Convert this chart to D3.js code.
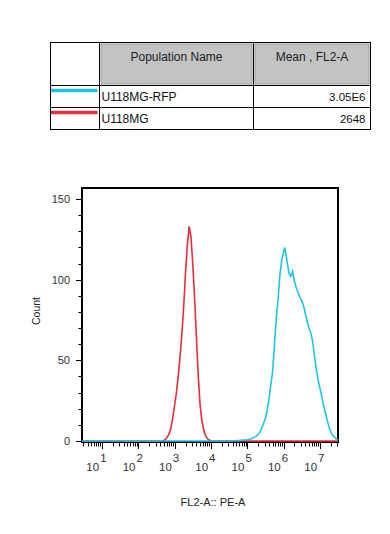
<!DOCTYPE html>
<html>
<head>
<meta charset="utf-8">
<script src="https://cdn.jsdelivr.net/npm/d3@7"></script>
<style>
  html, body { margin: 0; padding: 0; background: #fff; }
  svg { display: block; font-family: "Liberation Sans", Arial, sans-serif; }
</style>
</head>
<body>
<svg id="chart" width="390" height="534"></svg>
<script>
// ---------------- data ----------------
const populations = ["U118MG-RFP", "U118MG"];
const populationColors = ["#1fc3e8", "#ea2d3a"];
const meanValues = ["3.05E6", "2648"];
const tableHeaders = ["Population Name", "Mean , FL2-A"];

// bin positions as log10(FL2-A)
const redLog = [0.45, 2.60, 2.65, 2.70, 2.75, 2.80, 2.85, 2.90, 2.95, 3.00, 3.05, 3.10, 3.15, 3.20, 3.25, 3.30, 3.35, 3.40, 3.45, 3.50, 3.55, 3.60, 3.65, 3.70, 3.75, 3.80, 3.85, 3.90, 3.95, 4.00, 4.05, 4.10, 7.50];
const redCount = [0, 0, 0, 0.3, 1, 2.5, 4.5, 8, 14.5, 22, 30, 40, 52, 66, 83, 104, 121, 133, 127, 110, 89, 65, 41, 23, 13, 7, 3.5, 1.5, 0.6, 0.2, 0, 0, 0];

const cyanLog = [0.45, 4.50, 4.60, 4.70, 4.80, 4.90, 5.00, 5.05, 5.10, 5.15, 5.20, 5.25, 5.30, 5.35, 5.40, 5.45, 5.50, 5.55, 5.60, 5.65, 5.70, 5.75, 5.80, 5.85, 5.90, 5.95, 6.00, 6.03, 6.05, 6.10, 6.15, 6.20, 6.25, 6.30, 6.35, 6.40, 6.45, 6.50, 6.55, 6.60, 6.65, 6.70, 6.75, 6.80, 6.85, 6.90, 6.95, 7.00, 7.05, 7.10, 7.15, 7.20, 7.25, 7.30, 7.35, 7.40, 7.45, 7.50];
const cyanCount = [0, 0, 0.2, 0.3, 0.4, 0.6, 0.8, 1, 1.3, 1.8, 2.4, 3, 4, 5.5, 8, 11, 14, 19, 26, 35, 43, 60, 76, 88, 103, 112, 117, 120, 118, 111, 104, 102, 105, 99, 95, 92, 89, 87, 84, 79, 74, 70, 67, 62, 53, 45, 38, 33, 28, 22, 18, 13, 9, 5.5, 3.5, 2.5, 1.2, 0.6];

const xDecades = [1, 2, 3, 4, 5, 6, 7];
const yTicksMajor = [0, 50, 100, 150];
const xLabel = "FL2-A:: PE-A";
const yLabel = "Count";

// ---------------- drawing ----------------
const svg = d3.select("#chart");

// table
const tbl = svg.append("g");
const colX = [50.5, 99.5, 253.5, 370.5];
const rowY = [42.5, 85.5, 107.5, 129.5];
// header gray cells
[[colX[1], colX[2]], [colX[2], colX[3]]].forEach(([a, b]) => {
  tbl.append("rect").attr("x", a + 1.5).attr("y", rowY[0] + 1.5)
    .attr("width", b - a - 3).attr("height", rowY[1] - rowY[0] - 3)
    .attr("fill", "#c3c3c3").attr("stroke", "#9a9a9a").attr("stroke-width", 1);
});
// grid lines
tbl.append("rect").attr("x", colX[0]).attr("y", rowY[0]).attr("width", colX[3] - colX[0])
  .attr("height", rowY[3] - rowY[0]).attr("fill", "none").attr("stroke", "#000");
rowY.slice(1, 3).forEach(y => tbl.append("line").attr("x1", colX[0]).attr("x2", colX[3])
  .attr("y1", y).attr("y2", y).attr("stroke", "#000"));
colX.slice(1, 3).forEach(x => tbl.append("line").attr("x1", x).attr("x2", x)
  .attr("y1", rowY[0]).attr("y2", rowY[3]).attr("stroke", "#000"));
// header texts
tableHeaders.forEach((h, i) => {
  tbl.append("text").attr("x", (colX[i + 1] + colX[i + 2]) / 2).attr("y", 61)
    .attr("text-anchor", "middle").attr("font-size", 12).attr("fill", "#222").text(h);
});
// rows
populations.forEach((p, i) => {
  const yMid = (rowY[i + 1] + rowY[i + 2]) / 2;
  tbl.append("line").attr("x1", colX[0] + 0.5).attr("x2", colX[1] - 2)
    .attr("y1", yMid - 6).attr("y2", yMid - 6)
    .attr("stroke", populationColors[i]).attr("stroke-width", 3.5);
  tbl.append("text").attr("x", colX[1] + 2).attr("y", yMid + 4.5)
    .attr("font-size", 12).attr("fill", "#111").text(p);
  tbl.append("text").attr("x", colX[3] - 5).attr("y", yMid + 4.5)
    .attr("text-anchor", "end").attr("font-size", 11.5).attr("fill", "#111").text(meanValues[i]);
});

// plot scales
const x = d3.scaleLog().domain([Math.pow(10, 0.45), Math.pow(10, 7.5)]).range([82, 338]);
const y = d3.scaleLinear().domain([0, 156.8]).range([441, 188]);

// curves
const line = d3.line().x(d => x(Math.pow(10, d[0]))).y(d => y(d[1])).curve(d3.curveLinear);
const redData = redLog.map((v, i) => [v, redCount[i]]);
const cyanData = cyanLog.map((v, i) => [v, cyanCount[i]]);

// frame
svg.append("rect").attr("x", 82).attr("y", 188).attr("width", 256).attr("height", 254)
  .attr("fill", "none").attr("stroke", "#000").attr("stroke-width", 2);

svg.append("path").datum(redData).attr("d", line).attr("fill", "none")
  .attr("stroke", populationColors[1]).attr("stroke-width", 1.6);
svg.append("path").datum(cyanData).attr("d", line).attr("fill", "none")
  .attr("stroke", populationColors[0]).attr("stroke-width", 1.6);

// y axis ticks
const yMinor = d3.range(0, 151, 10);
svg.append("g").selectAll("line").data(yMinor).join("line")
  .attr("x1", d => yTicksMajor.includes(d) ? 76 : 78.5).attr("x2", 82)
  .attr("y1", d => Math.round(y(d)) + 0.5).attr("y2", d => Math.round(y(d)) + 0.5)
  .attr("stroke", "#000").attr("stroke-width", 1);
svg.append("g").selectAll("text").data(yTicksMajor).join("text")
  .attr("x", 70).attr("y", d => y(d) + 4)
  .attr("text-anchor", "end").attr("font-size", 11).attr("fill", "#333")
  .text(d => d);

// x axis ticks
const xMinorVals = [];
for (let k = 0; k <= 7; k++) {
  for (let m = 1; m <= 9; m++) {
    const v = m * Math.pow(10, k);
    if (v >= x.domain()[0] && v <= x.domain()[1]) xMinorVals.push({ v, major: m === 1 });
  }
}
svg.append("g").selectAll("line").data(xMinorVals).join("line")
  .attr("x1", d => Math.round(x(d.v)) + 0.5).attr("x2", d => Math.round(x(d.v)) + 0.5)
  .attr("y1", 443).attr("y2", d => d.major ? 449 : 446.5)
  .attr("stroke", "#000").attr("stroke-width", 1);

const xl = svg.append("g").selectAll("text").data(xDecades).join("text")
  .attr("x", d => x(Math.pow(10, d)) - 5.5).attr("y", 471)
  .attr("text-anchor", "middle").attr("font-size", 11.5).attr("fill", "#333");
xl.append("tspan").text("10");
xl.append("tspan").attr("dx", 1).attr("dy", -9).text(d => d);

// axis titles
svg.append("text").attr("x", 213).attr("y", 506).attr("text-anchor", "middle")
  .attr("font-size", 11).attr("fill", "#222").text(xLabel);
svg.append("text").attr("transform", "translate(40,311) rotate(-90)")
  .attr("text-anchor", "middle").attr("font-size", 10.5).attr("fill", "#222").text(yLabel);
</script>
</body>
</html>
